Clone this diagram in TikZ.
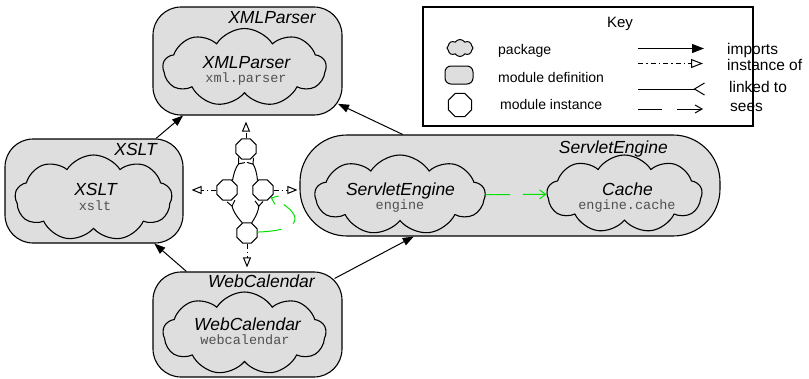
\documentclass[tikz,border=0pt]{standalone}
\usepackage{fontspec}
\setmainfont{Liberation Sans}
\setsansfont{Liberation Sans}
\setmonofont{Liberation Mono}
\usetikzlibrary{shapes.geometric,shapes.symbols,arrows.meta,calc}
\definecolor{modgray}{RGB}{222,222,222}
\definecolor{seegreen}{RGB}{0,225,0}
\definecolor{codegray}{RGB}{80,80,80}
\begin{document}
\begin{tikzpicture}[x=1pt,y=-1pt,
  module/.style={draw, line width=1.1pt, fill=modgray, rounded corners=28pt, inner sep=0pt},
  pkg/.style={draw, line width=1.1pt, fill=modgray, cloud, cloud puffs=9, cloud puff arc=115, cloud ignores aspect, inner sep=0pt},
  inst/.style={draw, line width=1pt, fill=white, regular polygon, regular polygon sides=8, minimum size=22pt, inner sep=0pt},
  title/.style={font=\fontsize{17.5}{20}\selectfont\itshape, inner sep=0pt, anchor=base east},
  lbl/.style={font=\fontsize{17.5}{20}\selectfont\itshape, inner sep=0pt, anchor=base},
  code/.style={font=\fontsize{13.5}{16}\selectfont\ttfamily, text=codegray, inner sep=0pt, anchor=base},
  keytxt/.style={font=\fontsize{14}{16}\selectfont, inner sep=0pt, anchor=base west},
  keytxtr/.style={font=\fontsize{15.5}{18}\selectfont, inner sep=0pt, anchor=base west},
  imports/.style={line width=1pt, -{Triangle[length=11pt,width=8pt]}},
  instof/.style={line width=1pt, dash pattern=on 5pt off 3pt on 1.5pt off 3pt, -{Triangle[open,length=10pt,width=8pt,fill=white]}},
  linked/.style={line width=1pt, -{Straight Barb[reversed,length=5pt,width=8pt]}},
  sees/.style={line width=1pt, draw=seegreen, dash pattern=on 24pt off 13pt, -{Straight Barb[length=6pt,width=9pt]}},
]
\useasboundingbox (0,0) rectangle (809,378);

% module definitions
\node[module, minimum width=189pt, minimum height=108pt] (xmlp) at (247.5,61) {};
\node[module, minimum width=178pt, minimum height=104pt] (xslt) at (94,191) {};
\node[module, rounded corners=47pt, minimum width=420pt, minimum height=101pt] (serv) at (510,185.5) {};
\node[module, minimum width=189pt, minimum height=105pt] (web) at (247.5,324.5) {};

% packages
\node[pkg, minimum width=163pt, minimum height=78pt] (xmlpc) at (244.5,67.5) {};
\node[pkg, minimum width=157pt, minimum height=86pt] (xsltc) at (93.5,198) {};
\node[pkg, minimum width=170pt, minimum height=80pt] (servc) at (400,195) {};
\node[pkg, minimum width=155pt, minimum height=78pt] (cache) at (624.5,194) {};
\node[pkg, minimum width=163pt, minimum height=83pt] (webc) at (244.5,333.5) {};

% titles
\node[title] (xmlpt) at (316,23) {XMLParser};
\node[title] (xsltt) at (157,155) {XSLT};
\node[title] (servt) at (668,153) {ServletEngine};
\node[title] (webt) at (315,287) {WebCalendar};

% package labels
\node[lbl] (xmlpl) at (246.5,68) {XMLParser};
\node[code] (xmlpk) at (246,82) {xml.parser};
\node[lbl] (xsltl) at (95.5,195) {XSLT};
\node[code] (xsltk) at (95,210) {xslt};
\node[lbl] (servl) at (400.5,195) {ServletEngine};
\node[code] (servk) at (400,209) {engine};
\node[lbl] (cachel) at (627.5,195) {Cache};
\node[code] (cachek) at (627,209) {engine.cache};
\node[lbl] (webl) at (247.5,330) {WebCalendar};
\node[code] (webk) at (245,344) {webcalendar};

% module instances
\node[inst] (itop) at (246,149) {};
\node[inst] (ileft) at (227,190) {};
\node[inst] (iright) at (263,190) {};
\node[inst] (ibot) at (247,233) {};

% imports
\draw[imports] (xslt) -- (xmlp);
\draw[imports] (web) -- (xslt);
\draw[imports, shorten <=-9pt] (web) -- (serv);
\draw[imports, shorten >=-5pt] (serv) -- (xmlp);

% instance of
\coordinate (toptip) at ($(itop |- xmlp.south)+(0,6)$);
\coordinate (lefttip) at ($(ileft -| xslt.east)+(8,0)$);
\coordinate (righttip) at ($(iright -| serv.west)+(-2,0)$);
\coordinate (bottip) at ($(ibot |- web.north)+(0,-4)$);
\draw[instof] (itop) -- (toptip);
\draw[instof] (ileft) -- (lefttip);
\draw[instof] (iright) -- (righttip);
\draw[instof] (ibot) -- (bottip);

% linked to
\draw[linked] (ileft.60) to[bend left=15] (itop.250);
\draw[linked] (iright.120) to[bend right=15] (itop.290);
\draw[linked] (ibot.115) to[bend left=15] (ileft.290);
\draw[linked] (ibot.65) to[bend right=15] (iright.250);

% sees
\draw[sees] (ibot.5) .. controls (315,230) and (295,208) .. (iright.-45);
\draw[sees] (servc) -- (cache);

% key
\node[draw, line width=1.1pt, minimum width=330pt, minimum height=119pt, inner sep=0pt] (keybox) at (588,66.5) {};
\node[font=\fontsize{15}{18}\selectfont, inner sep=0pt, anchor=base] (keyt) at (620,27) {Key};
\node[pkg, minimum width=26pt, minimum height=17pt, cloud puffs=8, line width=1pt] (kpkg) at (460,48) {};
\node[draw, fill=modgray, line width=1pt, rounded corners=6pt, minimum width=28pt, minimum height=18pt, inner sep=0pt] (kmod) at (459,75) {};
\node[inst, minimum size=25pt] (kinst) at (460,105) {};
\node[keytxt] (tpkg) at (498,54) {package};
\node[keytxt] (tmod) at (498,82) {module definition};
\node[keytxt] (tinst) at (500,109) {module instance};

\coordinate (ka1) at (638,48.5); \coordinate (ka2) at (704,48.5);
\coordinate (kb1) at (638,63.5); \coordinate (kb2) at (703,63.5);
\coordinate (kc1) at (638,89); \coordinate (kc2) at (705,89);
\coordinate (kd1) at (638,109); \coordinate (kd2) at (703,109);
\draw[line width=1pt, -{Triangle[length=12pt,width=9pt]}] (ka1) -- (ka2);
\draw[line width=1pt, dash pattern=on 5pt off 3pt on 1.5pt off 3pt, -{Triangle[open,length=12pt,width=9pt,fill=white]}] (kb1) -- (kb2);
\draw[line width=1pt, -{Straight Barb[reversed,length=10pt,width=12pt]}] (kc1) -- (kc2);
\draw[line width=1pt, dash pattern=on 24pt off 15pt, -{Straight Barb[length=7pt,width=8pt]}] (kd1) -- (kd2);
\node[keytxtr] (timp) at (727,54) {imports};
\node[keytxtr] (tins) at (727,70) {instance of};
\node[keytxtr] (tlnk) at (729,92) {linked to};
\node[keytxtr] (tsee) at (730,111) {sees};
\end{tikzpicture}
\end{document}
